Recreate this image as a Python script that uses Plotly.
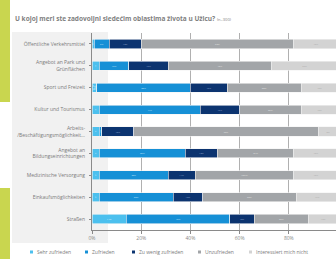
import plotly.graph_objects as go

categories = ["Öffentliche Verkehrsmittel", "Angebot an Park und<br>Grünflächen", "Sport und Freizeit",
              "Kultur und Tourismus", "Arbeits-<br>/Beschäftigungsmöglichkeit…", "Angebot an<br>Bildungseinrichtungen",
              "Medizinische Versorgung", "Einkaufsmöglichkeiten", "Straßen"]
series_names = ["Sehr zufrieden", "Zufrieden", "Zu wenig zufrieden", "Unzufrieden", "Interessiert mich nicht"]
sehr = [1, 3, 2, 3, 3, 3, 3, 3, 14]
zufrieden = [6, 12, 38, 41, 1, 35, 28, 30, 42]
zu_wenig = [13, 16, 15, 16, 13, 13, 11, 12, 10]
unzufrieden = [62, 42, 30, 25, 75, 31, 40, 38, 22]
nicht = [18, 27, 15, 15, 8, 18, 18, 17, 12]
x_ticks = [0, 20, 40, 60, 80]
x_tick_labels = ["0%", "20%", "40%", "60%", "80%"]

colors = ["#4cc0ee", "#1690d6", "#0c3470", "#a2a5a8", "#d3d3d3"]
text_colors = ["#e8f7ff", "#cfe9fb", "#9fb3d3", "#e6e6e6", "#a8a8a8"]

W, H = 336, 259
L, R, T, B = 92, 0, 33, 29
pw, ph = W - L - R, H - T - B

def px(x):
    return (x - L) / pw

def py(y):
    return (H - B - y) / ph

fig = go.Figure()
for name, vals, c, tc in zip(series_names, [sehr, zufrieden, zu_wenig, unzufrieden, nicht], colors, text_colors):
    fig.add_trace(go.Bar(
        y=categories, x=vals, name=name, orientation="h",
        marker=dict(color=c, line=dict(color="#f4f4f4", width=0.6)),
        texttemplate="%{x}%", textposition="inside", insidetextanchor="middle",
        textfont=dict(size=4.5, color=tc, family="Open Sans"),
        showlegend=False,
    ))

shapes = [
    dict(type="rect", xref="paper", yref="paper", x0=px(0), x1=px(10), y0=py(0), y1=py(102),
         fillcolor="#c9d64f", line=dict(width=0), layer="below"),
    dict(type="rect", xref="paper", yref="paper", x0=px(0), x1=px(10), y0=py(188), y1=py(259),
         fillcolor="#c9d64f", line=dict(width=0), layer="below"),
    dict(type="rect", xref="paper", yref="paper", x0=px(12), x1=px(108), y0=py(32), y1=py(243),
         fillcolor="#f1f1f1", line=dict(width=0), layer="below"),
]

annotations = [
    dict(xref="paper", yref="paper", x=px(13), y=py(18), xanchor="left", yanchor="middle",
         text="<b>U kojoj meri ste zadovoljni sledećim oblastima života u Užicu?</b> <span style='font-size:4px'>(n=300)</span>",
         showarrow=False, font=dict(size=6.5, color="#7f7f7f", family="Open Sans")),
    dict(xref="x", yref="paper", x=100, y=py(239), xanchor="center", yanchor="middle",
         text="100%", showarrow=False, font=dict(size=5, color="#8a8a8a", family="Open Sans")),
]

# legend drawn as small swatches with labels along the bottom
legend_x = [35, 90, 137, 203, 254]
legend_y = 252
for name, c, lx in zip(series_names, colors, legend_x):
    shapes.append(dict(type="rect", xref="paper", yref="paper",
                       x0=px(lx - 5), x1=px(lx - 2), y0=py(legend_y + 1.5), y1=py(legend_y - 1.5),
                       fillcolor=c, line=dict(width=0)))
    annotations.append(dict(xref="paper", yref="paper", x=px(lx), y=py(legend_y),
                            xanchor="left", yanchor="middle", text=name, showarrow=False,
                            font=dict(size=5, color="#7a7a7a", family="Open Sans")))

fig.update_layout(
    width=W, height=H,
    margin=dict(l=L, r=R, t=T, b=B, pad=0, autoexpand=False),
    barmode="stack", bargap=0.58,
    paper_bgcolor="#ffffff", plot_bgcolor="rgba(0,0,0,0)",
    shapes=shapes, annotations=annotations,
    showlegend=False,
    font=dict(family="Open Sans", color="#7a7a7a"),
)
fig.update_xaxes(range=[0, pw / 2.46], tickvals=x_ticks, ticktext=x_tick_labels,
                 showgrid=True, gridcolor="#b0b0b0", gridwidth=1,
                 showline=True, linecolor="#8a8a8a", linewidth=1,
                 ticks="outside", ticklen=3, tickcolor="#8a8a8a",
                 tickfont=dict(size=5, color="#8a8a8a"), zeroline=False, fixedrange=True)
fig.update_yaxes(autorange="reversed", categoryorder="array", categoryarray=categories,
                 showline=True, linecolor="#8a8a8a", linewidth=1,
                 ticks="outside", ticklen=2, tickcolor="#8a8a8a",
                 tickfont=dict(size=5, color="#7a7a7a"), ticklabelstandoff=3, fixedrange=True)

fig.write_html("out.html", config=dict(displayModeBar=False),
               post_script="document.body.style.margin='0';document.body.style.overflow='hidden';")
